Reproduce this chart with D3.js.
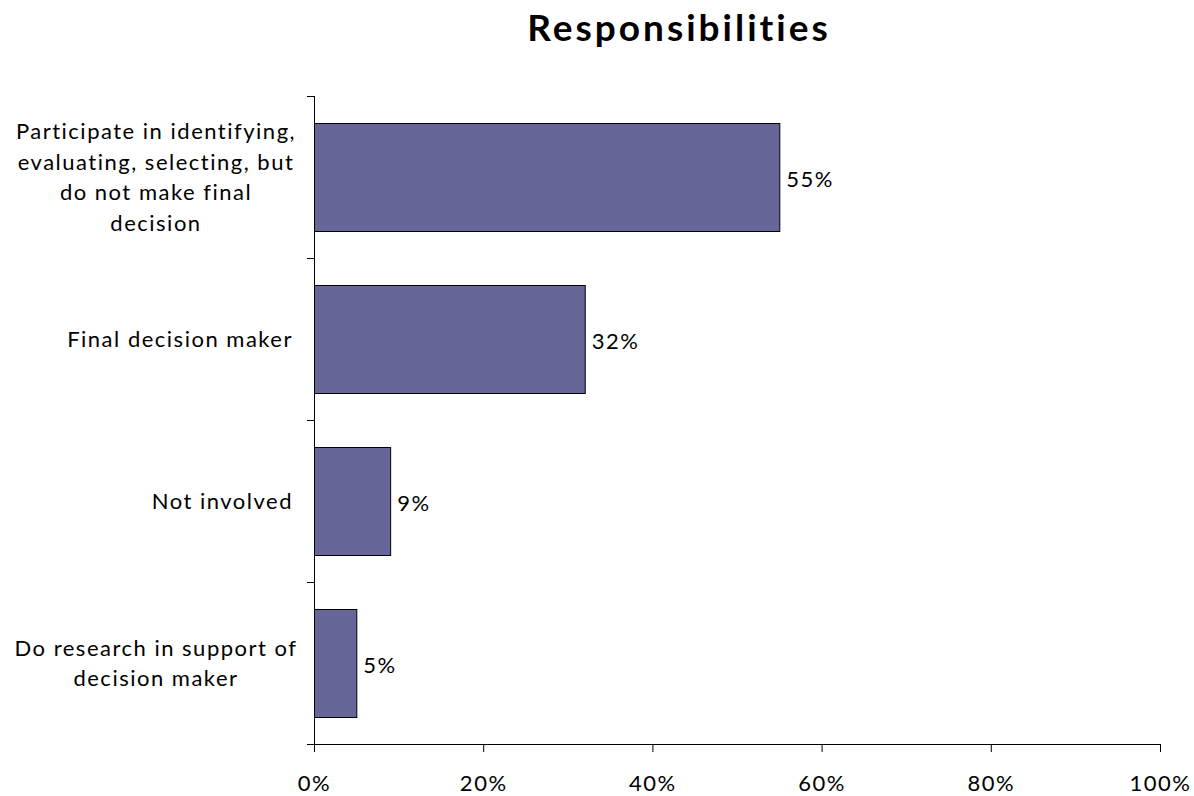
<!DOCTYPE html>
<html>
<head>
<meta charset="utf-8">
<script src="https://cdn.jsdelivr.net/npm/d3@7"></script>
<style>
  html, body { margin: 0; padding: 0; background: #fff; }
  svg { display: block; }
  text { font-family: Lato, "Open Sans", sans-serif; fill: #000; }
</style>
</head>
<body>
<svg id="chart" width="1194" height="796"></svg>
<script>
// Survey results: respondents' role in the purchasing decision
const categories = [
  ["Participate in identifying,", "evaluating, selecting, but", "do not make final", "decision"],
  ["Final decision maker"],
  ["Not involved"],
  ["Do research in support of", "decision maker"]
];
const values = [55, 32, 9, 5];
const xTicks = [0, 20, 40, 60, 80, 100];
const title = "Responsibilities";

const W = 1194, H = 796;
const margin = { left: 314, right: 34, top: 96, bottom: 52 };
const fontSize = 22, spacing = 1.5;

const svg = d3.select("#chart");

const x = d3.scaleLinear().domain([0, 100]).range([margin.left, W - margin.right]);
const y = d3.scaleBand().domain(d3.range(categories.length))
  .range([margin.top, H - margin.bottom]).paddingInner(1/3).paddingOuter(1/6);

// Title
svg.append("text")
  .attr("x", 679).attr("y", 41)
  .attr("text-anchor", "middle")
  .style("font-size", "37px").style("font-weight", "bold")
  .style("letter-spacing", "3px")
  .text(title);

// Bars
svg.append("g").selectAll("rect").data(values).join("rect")
  .attr("x", x(0) + 0.5)
  .attr("y", (d, i) => Math.round(y(i)) + 0.5)
  .attr("width", d => x(d) - x(0))
  .attr("height", Math.round(y.bandwidth()))
  .attr("fill", "#666699")
  .attr("stroke", "#000").attr("stroke-width", 1);

// Value labels
svg.append("g").selectAll("text").data(values).join("text")
  .attr("x", d => x(d) + 7)
  .attr("y", (d, i) => y(i) + y.bandwidth() / 2)
  .attr("dy", "0.45em")
  .style("font-size", fontSize + "px")
  .style("letter-spacing", spacing + "px")
  .text(d => d + "%");

// X axis
const axisY = H - margin.bottom;
const xAxis = d3.axisBottom(x).tickValues(xTicks).tickFormat(d => d + "%").tickSize(8).tickSizeOuter(0);
const gx = svg.append("g").attr("transform", `translate(0,${axisY})`).call(xAxis);
gx.select(".domain").attr("stroke", "#000");
gx.selectAll(".tick line").attr("stroke", "#000");
gx.selectAll(".tick text")
  .attr("y", 47).attr("dy", 0)
  .style("font-size", fontSize + "px")
  .style("font-family", "Lato, sans-serif")
  .style("letter-spacing", spacing + "px");

// Y axis: line with ticks at the band boundaries
const yEdges = d3.range(categories.length + 1).map(i => margin.top + i * y.step());
const gy = svg.append("g");
gy.append("line")
  .attr("x1", x(0) + 0.5).attr("x2", x(0) + 0.5)
  .attr("y1", margin.top).attr("y2", axisY)
  .attr("stroke", "#000");
gy.selectAll("line.t").data(yEdges).join("line").attr("class", "t")
  .attr("x1", x(0) - 7).attr("x2", x(0))
  .attr("y1", d => Math.round(d) + 0.5).attr("y2", d => Math.round(d) + 0.5)
  .attr("stroke", "#000");

// Category labels: wrapped labels are centred in the label box,
// single-line labels sit flush against the axis
const lineH = 30.5;
const boxCenter = 156, labelRight = 293;
categories.forEach((lines, i) => {
  const cy = y(i) + y.bandwidth() / 2;
  const multi = lines.length > 1;
  svg.append("g").selectAll("text").data(lines).join("text")
    .attr("x", multi ? boxCenter : labelRight)
    .attr("y", (d, j) => cy + (j - (lines.length - 1) / 2) * lineH)
    .attr("dy", "0.36em")
    .attr("text-anchor", multi ? "middle" : "end")
    .style("font-size", fontSize + "px")
    .style("letter-spacing", spacing + "px")
    .text(d => d);
});
</script>
</body>
</html>
